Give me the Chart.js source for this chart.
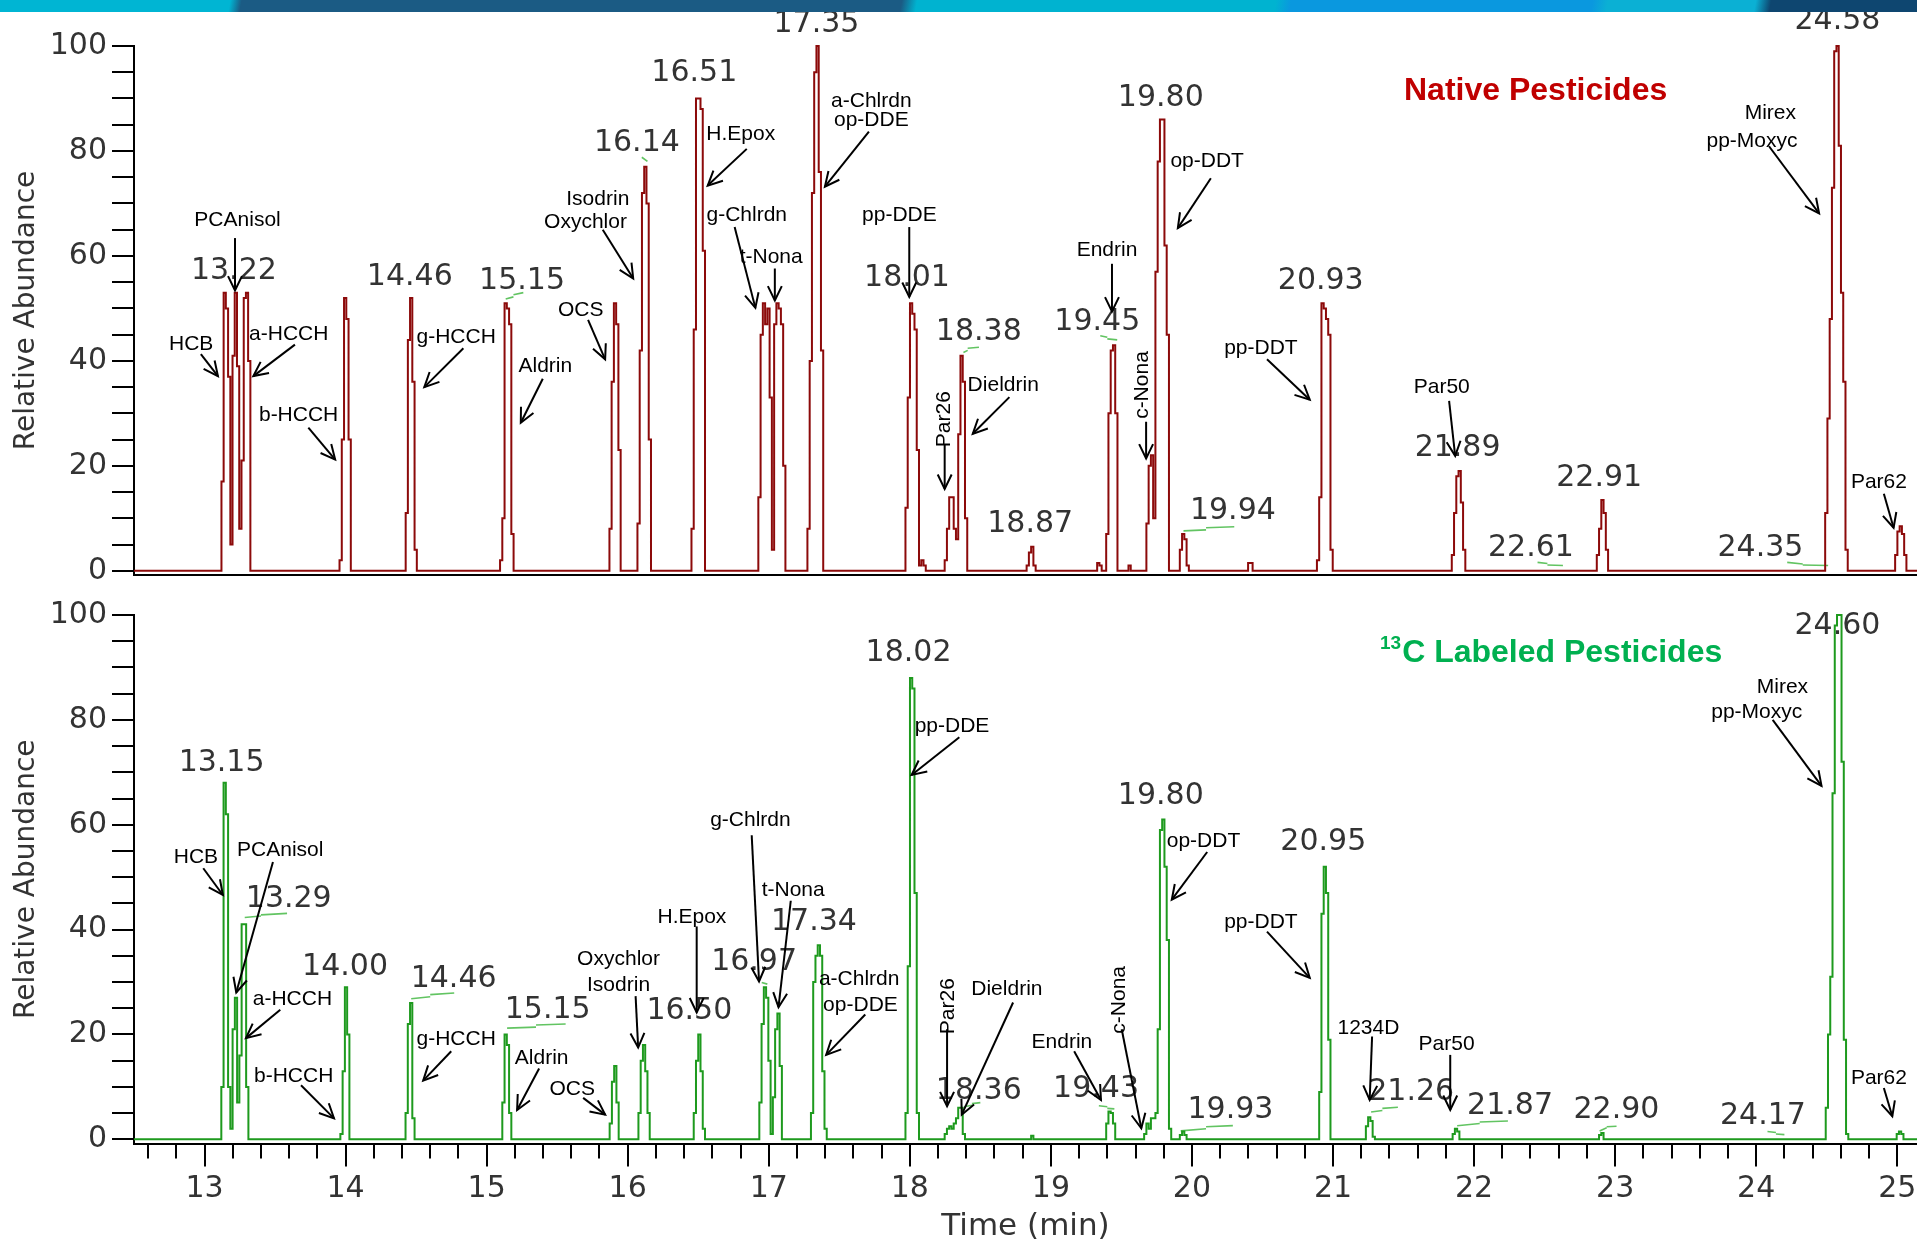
<!DOCTYPE html>
<html>
<head>
<meta charset="utf-8">
<script src="https://cdn.jsdelivr.net/npm/chart.js@4.4.1/dist/chart.umd.min.js"></script>
<style>
html, body { margin: 0; padding: 0; background: #fff; }
#wrap { position: relative; width: 1917px; height: 1246px; overflow: hidden; }
#banner { position: absolute; left: 0; top: 0; width: 1917px; height: 12px; z-index: 2;
  background: linear-gradient(100deg, #00b5d3 0 12%, #1b5b84 12.6% 47%, #00b3d0 47.8% 66.5%, #0a98df 67.3% 83%, #0bb0d4 83.8% 91.5%, #0e4670 92.3% 100%); }
canvas { position: absolute; left: 0; }
</style>
</head>
<body>
<div id="wrap">
  <div id="banner"></div>
  <canvas id="native" width="1917" height="600" style="top:0"></canvas>
  <canvas id="labeled" width="1917" height="656" style="top:590px"></canvas>
</div>
<script>
// time (min), relative abundance
const nativeTrace = [
  [12.50,0],
  [13.112,0],[13.128,17],[13.143,53],[13.159,50],[13.175,37],[13.191,5],[13.206,41],[13.222,53],[13.238,39],[13.254,8],[13.270,21],[13.286,52],[13.301,53],[13.317,40],[13.333,0],
  [13.949,0],[13.965,2],[13.981,25],[13.997,52],[14.013,48],[14.029,25],[14.045,0],
  [14.418,0],[14.434,11],[14.449,44],[14.465,52],[14.481,36],[14.497,4],[14.513,0],
  [15.087,0],[15.103,2],[15.119,10],[15.135,51],[15.151,50],[15.167,47],[15.183,7],[15.199,0],
  [15.863,0],[15.878,8],[15.894,36],[15.910,51],[15.926,47],[15.942,23],[15.958,0],
  [16.061,0],[16.077,9],[16.093,42],[16.109,72],[16.125,77],[16.141,70],[16.157,25],[16.173,0],
  [16.444,0],[16.460,8],[16.476,46],[16.492,90],[16.508,90],[16.524,88],[16.540,61],[16.556,0],
  [16.918,0],[16.934,14],[16.950,45],[16.966,51],[16.982,47],[16.998,50],[17.014,33],[17.030,4],[17.046,47],[17.062,51],[17.078,50],[17.094,47],[17.110,20],[17.126,0],
  [17.266,0],[17.282,8],[17.298,40],[17.314,72],[17.330,95],[17.346,100],[17.362,76],[17.378,42],[17.394,0],
  [17.961,0],[17.977,12],[17.993,33],[18.009,51],[18.025,49],[18.041,46],[18.057,23],[18.073,1],[18.089,2],[18.105,1],[18.121,0],
  [18.239,0],[18.255,2],[18.271,8],[18.287,14],[18.303,14],[18.319,8],[18.335,6],[18.351,26],[18.367,41],[18.383,36],[18.399,10],[18.415,0],
  [18.820,0],[18.836,1],[18.852,3.5],[18.868,4.6],[18.884,1],[18.900,0],
  [19.320,0],[19.336,1.5],[19.352,1],[19.368,0],
  [19.384,0],[19.400,7],[19.416,30],[19.432,42],[19.448,43],[19.464,30],[19.480,0],
  [19.542,0],[19.558,1],[19.574,0],
  [19.669,0],[19.685,9],[19.701,20],[19.717,22],[19.733,10],[19.749,57],[19.765,78],[19.781,86],[19.797,86],[19.813,62],[19.829,45],[19.845,0],
  [19.906,0],[19.922,4],[19.938,7],[19.954,6],[19.970,1],[19.986,0],
  [20.390,0],[20.406,1.5],[20.422,1.5],[20.438,0],
  [20.878,0],[20.894,2],[20.910,14],[20.926,51],[20.942,50],[20.958,48],[20.974,45],[20.990,4],[21.006,0],
  [21.834,0],[21.850,3],[21.866,11],[21.882,18],[21.898,19],[21.914,13],[21.930,4],[21.946,0],
  [22.862,0],[22.878,3],[22.894,8],[22.910,13.5],[22.926,11],[22.942,4],[22.958,0],
  [24.481,0],[24.497,11],[24.513,29],[24.529,48],[24.545,73],[24.561,99],[24.577,100],[24.593,81],[24.609,53],[24.625,36],[24.641,4],[24.657,0],
  [24.977,0],[24.993,3],[25.009,7.5],[25.025,8.5],[25.041,7],[25.057,3],[25.073,0],
  [25.14,0]
];

const labeledTrace = [
  [12.50,0],
  [13.111,0],[13.127,10],[13.143,68],[13.159,62],[13.175,10],[13.191,2],[13.207,21],[13.223,27],[13.239,7],[13.255,16],[13.271,41],[13.287,41],[13.303,10],[13.319,0],
  [13.955,0],[13.971,1],[13.987,13],[14.003,29],[14.019,20],[14.035,0],
  [14.417,0],[14.433,5],[14.449,22],[14.465,26],[14.481,4],[14.497,0],
  [15.103,0],[15.119,7],[15.135,20],[15.151,18],[15.167,5],[15.183,0],
  [15.864,0],[15.880,3],[15.896,11],[15.912,14],[15.928,7],[15.944,0],
  [16.068,0],[16.084,5],[16.100,15],[16.116,18],[16.132,13],[16.148,5],[16.164,0],
  [16.460,0],[16.476,5],[16.492,15],[16.508,20],[16.524,13],[16.540,2],[16.556,0],
  [16.925,0],[16.941,7],[16.957,22],[16.973,29],[16.989,27],[17.005,15],[17.021,1],[17.037,8],[17.053,21],[17.069,24],[17.085,14],[17.101,0],
  [17.291,0],[17.307,5],[17.323,30],[17.339,35],[17.355,37],[17.371,35],[17.387,13],[17.403,2],[17.419,0],
  [17.961,0],[17.977,5],[17.993,33],[18.009,88],[18.025,86],[18.041,47],[18.057,5],[18.073,0],
  [18.239,0],[18.255,1],[18.271,2],[18.287,2.5],[18.303,2],[18.319,3],[18.335,4],[18.351,6],[18.367,6],[18.383,1],[18.399,0],
  [18.852,0],[18.868,0.7],[18.884,0],
  [19.384,0],[19.400,3],[19.416,5.3],[19.432,5],[19.448,3],[19.464,0],
  [19.653,0],[19.669,1],[19.685,3],[19.701,2],[19.717,4],[19.733,4],[19.749,5],[19.765,21],[19.781,59],[19.797,61],[19.813,52],[19.829,38],[19.845,2],[19.861,0],
  [19.906,0],[19.922,0.8],[19.938,1.5],[19.954,0.8],[19.970,0],
  [20.894,0],[20.910,9],[20.926,43],[20.942,52],[20.958,47],[20.974,19],[20.990,0],
  [21.225,0],[21.241,2.5],[21.257,4.2],[21.273,3.5],[21.289,0.5],[21.305,0],
  [21.840,0],[21.856,1],[21.872,2],[21.888,1.5],[21.904,0],
  [22.878,0],[22.894,0.8],[22.910,1.2],[22.926,0],
  [24.485,0],[24.501,6],[24.517,20],[24.533,31],[24.549,66],[24.565,98],[24.581,100],[24.597,100],[24.613,72],[24.629,19],[24.645,1],[24.661,0],
  [24.988,0],[25.004,1],[25.020,1.5],[25.036,1],[25.052,0],
  [25.14,0]
];

// little green integration baselines [t1, y1, t2, y2]
const nativeMarks = [
  [15.135,51.8,15.19,52.2],[15.19,52.6,15.26,53.0],
  [16.10,78.8,16.14,78.0],
  [18.38,41.6,18.41,42.0],[18.41,42.4,18.49,42.6],
  [19.35,44.8,19.40,44.5],[19.40,44.2,19.47,44.0],
  [19.94,7.6,20.10,7.8],[20.10,8.2,20.30,8.4],
  [22.45,1.6,22.52,1.4],[22.52,1.1,22.63,1.0],
  [24.22,1.6,24.33,1.3],[24.33,1.1,24.51,1.0]
];
const labeledMarks = [
  [13.285,42.3,13.40,42.6],[13.40,42.8,13.585,43.1],
  [14.465,26.8,14.60,27.2],[14.60,27.6,14.77,27.9],
  [15.145,21.2,15.35,21.4],[15.35,21.8,15.56,22.0],
  [16.95,29.9,16.99,29.6],
  [18.385,6.2,18.44,6.5],[18.44,6.8,18.50,7.0],
  [19.34,6.4,19.40,6.2],[19.40,5.9,19.45,5.8],
  [19.92,1.6,20.10,2.0],[20.10,2.4,20.29,2.6],
  [21.27,5.2,21.35,5.5],[21.35,5.9,21.46,6.1],
  [21.88,2.6,22.04,3.0],[22.04,3.3,22.24,3.5],
  [22.89,1.6,22.94,2.2],[22.94,2.4,23.01,2.5],
  [24.08,1.5,24.14,1.3],[24.14,1.0,24.20,0.9]
];

const xTickVals = [13, 14, 15, 16, 17, 18, 19, 20, 21, 22, 23, 24, 25];
const yTickVals = [0, 20, 40, 60, 80, 100];

// retention time labels
const rtNativeText = ['13.22','14.46','15.15','16.14','16.51','17.35','18.01','18.38','18.87','19.45','19.80','19.94','20.93','21.89','22.61','22.91','24.35','24.58'];
const rtNativePos = [[13.208,57.1],[14.455,55.9],[15.251,55.2],[16.065,81.4],[16.472,94.9],[17.338,104.2],[17.98,55.7],[18.489,45.5],[18.853,8.9],[19.329,47.3],[19.779,90],[20.29,11.4],[20.913,55.2],[21.883,23.3],[22.403,4.4],[22.887,17.7],[24.03,4.4],[24.576,104.7]];
const rtLabeledText = ['13.15','13.29','14.00','14.46','15.15','16.50','16.97','17.34','18.02','18.36','19.43','19.80','19.93','20.95','21.26','21.87','22.90','24.17','24.60'];
const rtLabeledPos = [[13.121,71.8],[13.597,45.7],[13.996,32.9],[14.766,30.5],[15.433,24.7],[16.437,24.5],[16.896,33.8],[17.320,41.5],[17.991,92.8],[18.489,9.1],[19.320,9.6],[19.779,65.5],[20.273,5.6],[20.931,56.6],[21.554,8.9],[22.255,6.3],[23.009,5.6],[24.048,4.4],[24.576,97.9]];

// compound call-outs (positions in data units)
const notesNative = [
  {text:['PCAnisol'], at:[[13.234,66.9]], from:[13.216,63.4], to:[13.216,53.4]},
  {text:['HCB'], at:[[12.905,43.1]], from:[12.974,41.3], to:[13.095,37.1]},
  {text:['a-HCCH'], at:[[13.597,45.0]], from:[13.641,43.1], to:[13.346,37.1]},
  {text:['b-HCCH'], at:[[13.667,29.6]], from:[13.736,27.3], to:[13.926,21.2]},
  {text:['g-HCCH'], at:[[14.784,44.5]], from:[14.835,42.4], to:[14.558,35.0]},
  {text:['Aldrin'], at:[[15.416,38.9]], from:[15.398,36.6], to:[15.242,28.2]},
  {text:['OCS'], at:[[15.667,49.7]], from:[15.719,47.8], to:[15.840,40.3]},
  {text:['Isodrin','Oxychlor'], at:[[15.788,70.9],[15.701,66.4]], from:[15.823,65.0], to:[16.039,55.7]},
  {text:['H.Epox'], at:[[16.801,83.2]], from:[16.844,80.4], to:[16.567,73.4]},
  {text:['g-Chlrdn'], at:[[16.844,67.8]], from:[16.758,65.5], to:[16.905,50.1]},
  {text:['t-Nona'], at:[[17.017,59.7]], from:[17.043,57.6], to:[17.043,51.5]},
  {text:['a-Chlrdn','op-DDE'], at:[[17.727,89.5],[17.727,85.8]], from:[17.710,83.7], to:[17.398,73.2]},
  {text:['pp-DDE'], at:[[17.926,67.8]], from:[17.996,65.5], to:[17.996,52.2]},
  {text:['Par26'], at:[[18.247,28.9]], from:[18.247,24.0], to:[18.247,15.6], rot:true},
  {text:['Dieldrin'], at:[[18.662,35.4]], from:[18.706,33.1], to:[18.446,26.1]},
  {text:['Endrin'], at:[[19.398,61.1]], from:[19.433,58.5], to:[19.433,49.4]},
  {text:['c-Nona'], at:[[19.649,35.4]], from:[19.675,28.4], to:[19.675,21.4], rot:true},
  {text:['op-DDT'], at:[[20.108,78.1]], from:[20.134,74.8], to:[19.900,65.3]},
  {text:['pp-DDT'], at:[[20.489,42.4]], from:[20.532,40.3], to:[20.835,32.6]},
  {text:['Par50'], at:[[21.771,35.0]], from:[21.823,32.4], to:[21.866,21.9]},
  {text:['Mirex','pp-Moxyc'], at:[[24.100,87.2],[23.970,81.8]], from:[24.091,80.9], to:[24.446,68.1]},
  {text:['Par62'], at:[[24.870,16.8]], from:[24.905,14.7], to:[24.974,8.2]}
];
const notesLabeled = [
  {text:['HCB'], at:[[12.939,53.8]], from:[12.991,51.7], to:[13.130,46.6]},
  {text:['PCAnisol'], at:[[13.537,55.2]], from:[13.485,52.9], to:[13.225,28.0]},
  {text:['a-HCCH'], at:[[13.623,26.8]], from:[13.537,24.7], to:[13.294,19.3]},
  {text:['b-HCCH'], at:[[13.632,12.1]], from:[13.684,10.3], to:[13.918,4.0]},
  {text:['g-HCCH'], at:[[14.784,19.1]], from:[14.749,16.8], to:[14.550,11.2]},
  {text:['Aldrin'], at:[[15.390,15.4]], from:[15.372,13.5], to:[15.216,5.6]},
  {text:['OCS'], at:[[15.606,9.6]], from:[15.684,7.9], to:[15.840,4.7]},
  {text:['Oxychlor','Isodrin'], at:[[15.935,34.3],[15.935,29.4]], from:[16.056,27.3], to:[16.074,17.5]},
  {text:['H.Epox'], at:[[16.455,42.4]], from:[16.489,40.6], to:[16.489,24.2]},
  {text:['g-Chlrdn'], at:[[16.870,60.8]], from:[16.879,58.0], to:[16.931,30.1]},
  {text:['t-Nona'], at:[[17.173,47.6]], from:[17.156,45.5], to:[17.069,25.2]},
  {text:['a-Chlrdn','op-DDE'], at:[[17.641,30.5],[17.650,25.6]], from:[17.684,23.8], to:[17.407,16.1]},
  {text:['pp-DDE'], at:[[18.299,78.8]], from:[18.351,76.7], to:[18.013,69.5]},
  {text:['Par26'], at:[[18.273,25.4]], from:[18.264,21.0], to:[18.264,6.3], rot:true},
  {text:['Dieldrin'], at:[[18.688,28.7]], from:[18.732,26.1], to:[18.368,4.7]},
  {text:['Endrin'], at:[[19.078,18.6]], from:[19.165,16.8], to:[19.355,7.5]},
  {text:['c-Nona'], at:[[19.485,26.6]], from:[19.502,21.0], to:[19.641,2.1], rot:true},
  {text:['op-DDT'], at:[[20.082,56.9]], from:[20.108,54.8], to:[19.857,45.7]},
  {text:['pp-DDT'], at:[[20.489,41.5]], from:[20.532,39.6], to:[20.835,30.8]},
  {text:['1234D'], at:[[21.251,21.2]], from:[21.277,19.6], to:[21.260,7.5]},
  {text:['Par50'], at:[[21.805,18.2]], from:[21.831,16.1], to:[21.831,5.6]},
  {text:['Mirex','pp-Moxyc'], at:[[24.186,86.2],[24.004,81.4]], from:[24.117,80.0], to:[24.463,67.4]},
  {text:['Par62'], at:[[24.870,11.7]], from:[24.905,9.8], to:[24.965,4.4]}
];

const AXIS_FONT = '"DejaVu Sans", sans-serif';
const NOTE_FONT = '"Liberation Sans", Arial, sans-serif';

function arrow(ctx, x1, y1, x2, y2) {
  ctx.beginPath(); ctx.moveTo(x1, y1); ctx.lineTo(x2, y2); ctx.stroke();
  const a = Math.atan2(y2 - y1, x2 - x1), L = 16, w = 0.45;
  ctx.beginPath();
  ctx.moveTo(x2 - L * Math.cos(a - w), y2 - L * Math.sin(a - w));
  ctx.lineTo(x2, y2);
  ctx.lineTo(x2 - L * Math.cos(a + w), y2 - L * Math.sin(a + w));
  ctx.stroke();
}

const annotate = {
  id: 'annotate',
  afterDatasetsDraw(chart, args, o) {
    const { ctx, chartArea } = chart;
    const xs = chart.scales.x, ys = chart.scales.y;
    const px = v => xs.getPixelForValue(v), py = v => ys.getPixelForValue(v);
    ctx.save();

    // tick marks
    ctx.strokeStyle = '#000'; ctx.lineWidth = 2;
    for (let v = 0; v <= 100; v += 5) {
      const y = Math.round(py(v));
      ctx.beginPath(); ctx.moveTo(chartArea.left - 22, y); ctx.lineTo(chartArea.left, y); ctx.stroke();
    }
    if (o.xTicks) {
      for (let i = 63; i <= 125; i++) {
        const x = Math.round(px(i / 5));
        const len = i % 5 === 0 ? 23 : 15;
        ctx.beginPath(); ctx.moveTo(x, chartArea.bottom); ctx.lineTo(x, chartArea.bottom + len); ctx.stroke();
      }
    }

    // retention times
    ctx.font = '30px ' + AXIS_FONT;
    ctx.fillStyle = '#333';
    ctx.textAlign = 'center'; ctx.textBaseline = 'middle';
    o.rtText.forEach((t, i) => ctx.fillText(t, px(o.rtPos[i][0]), py(o.rtPos[i][1])));

    // compound names + arrows
    ctx.font = '21px ' + NOTE_FONT;
    ctx.fillStyle = '#000';
    o.notes.forEach(n => {
      n.text.forEach((t, i) => {
        const x = px(n.at[i][0]), y = py(n.at[i][1]);
        if (n.rot) {
          ctx.save(); ctx.translate(x, y); ctx.rotate(-Math.PI / 2);
          ctx.fillText(t, 0, 0); ctx.restore();
        } else {
          ctx.fillText(t, x, y);
        }
      });
      arrow(ctx, px(n.from[0]), py(n.from[1]), px(n.to[0]), py(n.to[1]));
    });

    // panel title
    const T = o.title;
    ctx.textAlign = 'left';
    ctx.fillStyle = T.color;
    let x0 = T.x;
    if (T.sup) {
      ctx.font = 'bold 19px ' + NOTE_FONT;
      ctx.fillText(T.sup, x0, T.y - 9);
      x0 += ctx.measureText(T.sup).width + 1;
    }
    ctx.font = 'bold ' + T.size + 'px ' + NOTE_FONT;
    ctx.fillText(T.text, x0, T.y);
    ctx.restore();
  }
};

function markPoints(marks) {
  const out = [];
  marks.forEach(m => out.push({ x: m[0], y: m[1] }, { x: m[2], y: m[3] }, { x: m[2], y: null }));
  return out;
}

function makeChart(id, cfg) {
  return new Chart(document.getElementById(id), {
    type: 'line',
    data: {
      datasets: [
        { data: cfg.trace.map(p => ({ x: p[0], y: p[1] })), borderColor: cfg.color, borderWidth: 2,
          stepped: 'middle', pointRadius: 0, fill: false, clip: false },
        { data: markPoints(cfg.marks), borderColor: '#62c462', borderWidth: 1.6,
          pointRadius: 0, fill: false, spanGaps: false }
      ]
    },
    options: {
      responsive: false,
      animation: false,
      events: [],
      layout: { autoPadding: false, padding: { top: cfg.padTop, bottom: cfg.padBottom, left: 0, right: 0 } },
      plugins: {
        legend: { display: false },
        tooltip: { enabled: false },
        annotate: { xTicks: cfg.showX, rtText: cfg.rtText, rtPos: cfg.rtPos, notes: cfg.notes, title: cfg.title }
      },
      scales: {
        x: {
          type: 'linear', min: 12.5, max: 25.14,
          grid: { display: false, drawTicks: false },
          border: { display: true, color: '#000', width: 2 },
          ticks: { display: cfg.showX, autoSkip: false, maxRotation: 0, padding: 28,
                   font: { family: AXIS_FONT, size: 30 }, color: '#333' },
          afterBuildTicks: s => { s.ticks = xTickVals.map(v => ({ value: v })); },
          afterFit: s => { s.height = cfg.xHeight; s.paddingLeft = 0; s.paddingRight = 0; },
          title: { display: cfg.showX, text: 'Time (min)', padding: 0,
                   font: { family: AXIS_FONT, size: 31 }, color: '#333' }
        },
        y: {
          min: -0.8, max: 100,
          grid: { display: false, drawTicks: false },
          border: { display: true, color: '#000', width: 2 },
          ticks: { padding: 27, font: { family: AXIS_FONT, size: 30 }, color: '#333' },
          afterBuildTicks: s => { s.ticks = yTickVals.map(v => ({ value: v })); },
          afterFit: s => { s.width = 134; s.paddingTop = 0; s.paddingBottom = 0; },
          title: { display: true, text: 'Relative Abundance', padding: { top: 10, bottom: 0 },
                   font: { family: AXIS_FONT, size: 28 }, color: '#333' }
        }
      }
    },
    plugins: [annotate]
  });
}

makeChart('native', {
  trace: nativeTrace, marks: nativeMarks, color: '#8c0a0a',
  padTop: 46, padBottom: 25, xHeight: 0, showX: false,
  rtText: rtNativeText, rtPos: rtNativePos, notes: notesNative,
  title: { text: 'Native Pesticides', color: '#c00000', x: 1404, y: 91, size: 32 }
});

makeChart('labeled', {
  trace: labeledTrace, marks: labeledMarks, color: '#1e9a1e',
  padTop: 25, padBottom: 0, xHeight: 102.5, showX: true,
  rtText: rtLabeledText, rtPos: rtLabeledPos, notes: notesLabeled,
  title: { text: 'C Labeled Pesticides', sup: '13', color: '#00b050', x: 1380, y: 63, size: 32 }
});
</script>
</body>
</html>
